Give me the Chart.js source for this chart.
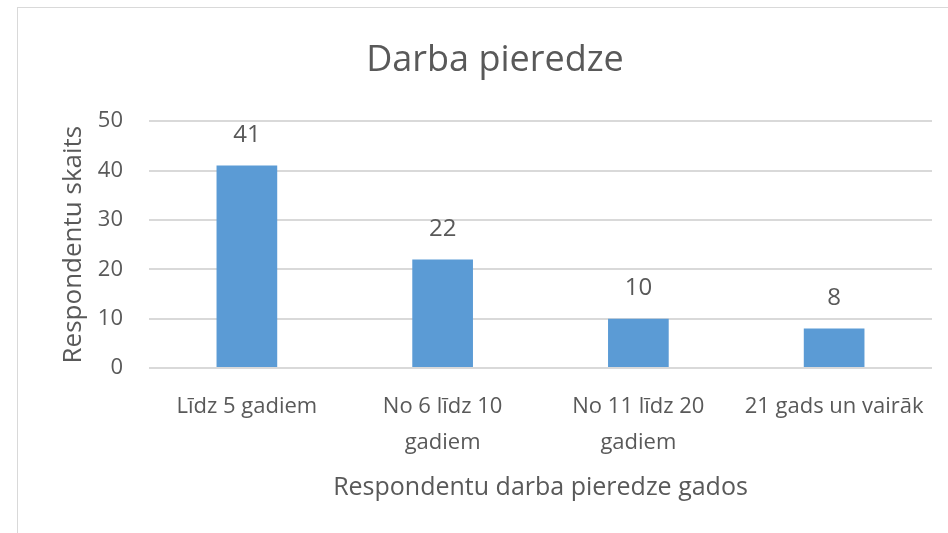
<!DOCTYPE html>
<html lang="lv">
<head>
    <meta charset="UTF-8">
    <title>Darba pieredze</title>
    <style>
        html, body {
            margin: 0;
            padding: 0;
            width: 948px;
            height: 533px;
            overflow: hidden;
            background: #ffffff;
        }
        #ramis {
            position: absolute;
            left: 17px;
            top: 7px;
            width: 948px;
            height: 525px;
            border-left: 1px solid #d9d9d9;
            border-top: 1px solid #d9d9d9;
        }
        canvas {
            display: block;
        }
    </style>
    <script src="https://cdn.jsdelivr.net/npm/chart.js"></script>
</head>
<body>
    <div id="ramis"><canvas id="grafiks" width="948" height="525"></canvas></div>

    <script>
        const kategorijas = ["Līdz 5 gadiem", ["No 6 līdz 10", "gadiem"], ["No 11 līdz 20", "gadiem"], "21 gads un vairāk"];
        const respondenti = [41, 22, 10, 8];
        const yTicks = [0, 10, 20, 30, 40, 50];

        const fonts = "'Open Sans', Lato, sans-serif";
        const teksts = "#595959";

        // vērtību uzraksti virs stabiņiem
        const uzraksti = {
            id: "uzraksti",
            afterDatasetsDraw(chart) {
                const ctx = chart.ctx;
                const meta = chart.getDatasetMeta(0);
                ctx.save();
                ctx.font = "24px " + fonts;
                ctx.fillStyle = teksts;
                ctx.textAlign = "center";
                ctx.textBaseline = "middle";
                meta.data.forEach((bar, i) => {
                    ctx.fillText(String(respondenti[i]), bar.x, bar.y - 30);
                });
                ctx.restore();
            }
        };

        const ctx = document.getElementById("grafiks").getContext("2d");
        new Chart(ctx, {
            type: "bar",
            data: {
                labels: kategorijas,
                datasets: [{
                    data: respondenti,
                    backgroundColor: "#5b9bd5",
                    borderWidth: 0,
                    categoryPercentage: 1,
                    barPercentage: 0.31
                }]
            },
            options: {
                responsive: false,
                animation: false,
                layout: {
                    padding: { left: 40, right: 34, top: 0, bottom: 30 }
                },
                plugins: {
                    legend: { display: false },
                    tooltip: { enabled: false },
                    title: {
                        display: true,
                        text: "Darba pieredze",
                        color: teksts,
                        font: { family: fonts, size: 36, weight: "normal", lineHeight: 1.2 },
                        padding: { top: 31, bottom: 39 }
                    }
                },
                scales: {
                    x: {
                        afterFit(axis) {
                            axis.height = 135;
                        },
                        grid: { display: false, drawTicks: false },
                        border: { display: false },
                        ticks: {
                            color: teksts,
                            font: { family: fonts, size: 22, lineHeight: 1.62 },
                            padding: 21,
                            maxRotation: 0,
                            autoSkip: false
                        },
                        title: {
                            display: true,
                            text: "Respondentu darba pieredze gados",
                            color: teksts,
                            font: { family: fonts, size: 25, lineHeight: 1.2 },
                            padding: { top: 0, bottom: 0 }
                        }
                    },
                    y: {
                        min: 0,
                        max: 50,
                        afterBuildTicks(axis) {
                            axis.ticks = yTicks.map(v => ({ value: v }));
                        },
                        afterFit(axis) {
                            axis.width = 131 - 40;
                        },
                        grid: {
                            color: "#d9d9d9",
                            lineWidth: 2,
                            drawTicks: false
                        },
                        border: { display: false },
                        ticks: {
                            color: teksts,
                            font: { family: fonts, size: 22 },
                            padding: 26
                        },
                        title: {
                            display: true,
                            text: "Respondentu skaits",
                            color: teksts,
                            font: { family: fonts, size: 26, lineHeight: 1.2 },
                            padding: { top: 0, bottom: 0 }
                        }
                    }
                }
            },
            plugins: [uzraksti]
        });
    </script>
</body>
</html>
